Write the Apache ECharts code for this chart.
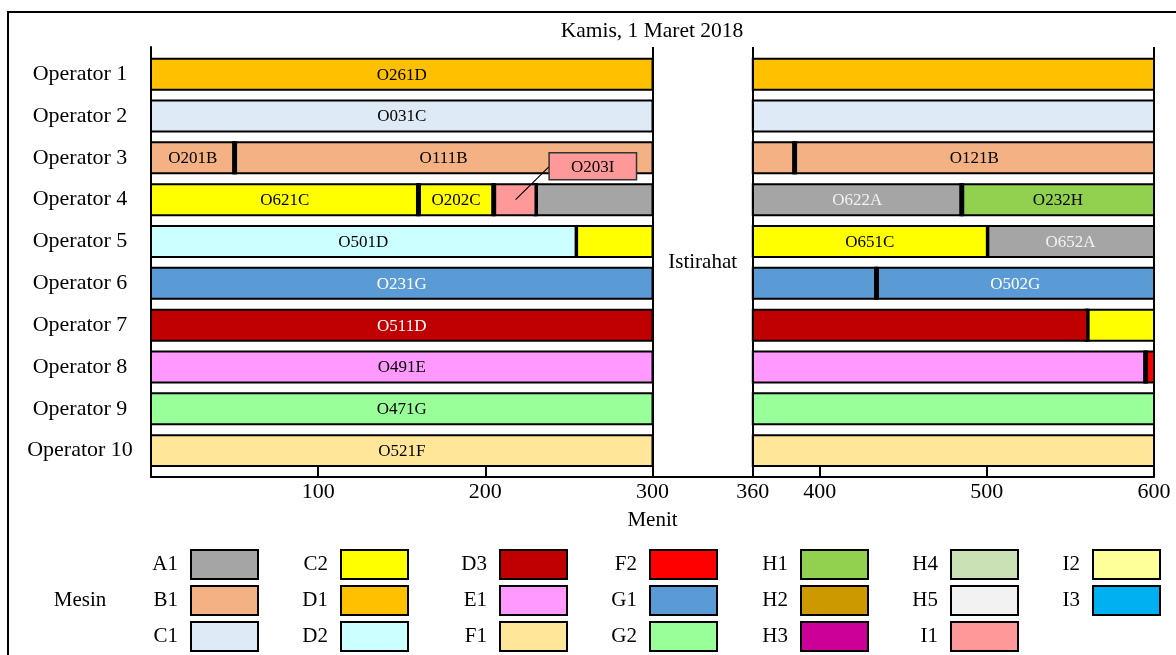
<!DOCTYPE html>
<html>
<head>
<meta charset="utf-8">
<title>Jadwal Operator</title>
<script src="https://cdn.jsdelivr.net/npm/echarts/dist/echarts.min.js"></script>
<style>
  html, body { margin: 0; padding: 0; background: #fff; }
  #chart { width: 1176px; height: 655px; }
</style>
</head>
<body>
<div id="chart"></div>
<script>
// ---- data ----
const chartTitle = 'Kamis, 1 Maret 2018';
const operators = ['Operator 1', 'Operator 2', 'Operator 3', 'Operator 4', 'Operator 5',
                   'Operator 6', 'Operator 7', 'Operator 8', 'Operator 9', 'Operator 10'];
const machines = ['A1', 'B1', 'C1', 'C2', 'D1', 'D2', 'D3', 'E1', 'F1', 'F2',
                  'G1', 'G2', 'H1', 'H2', 'H3', 'H4', 'H5', 'I1', 'I2', 'I3'];
// [operator number, job, machine, start minute, end minute]
const jobs = [
  [1, 'O261D', 'D1', 0, 600],
  [2, 'O031C', 'C1', 0, 600],
  [3, 'O201B', 'B1', 0, 50],
  [3, 'O111B', 'B1', 50, 385],
  [3, 'O121B', 'B1', 385, 600],
  [4, 'O621C', 'C2', 0, 160],
  [4, 'O202C', 'C2', 160, 205],
  [4, 'O203I', 'I1', 205, 230],
  [4, 'O622A', 'A1', 230, 485],
  [4, 'O232H', 'H1', 485, 600],
  [5, 'O501D', 'D2', 0, 254],
  [5, 'O651C', 'C2', 254, 500],
  [5, 'O652A', 'A1', 500, 600],
  [6, 'O231G', 'G1', 0, 434],
  [6, 'O502G', 'G1', 434, 600],
  [7, 'O511D', 'D3', 0, 560],
  [7, '', 'C2', 560, 600],
  [8, 'O491E', 'E1', 0, 595],
  [8, '', 'F2', 595, 600],
  [9, 'O471G', 'G2', 0, 600],
  [10, 'O521F', 'F1', 0, 600]
];
const breakStart = 300;
const breakEnd = 360;
const breakLabel = 'Istirahat';
const dayEnd = 600;
const xTickValues = [100, 200, 300, 360, 400, 500, 600];
const xAxisName = 'Menit';
const legendTitle = 'Mesin';

// ---- styling ----
const FONT = '"Liberation Serif", "Times New Roman", serif';
const palette = {
  A1: '#a5a5a5', B1: '#f4b183', C1: '#deebf7', C2: '#ffff00', D1: '#ffc000',
  D2: '#ccffff', D3: '#c00000', E1: '#ff99ff', F1: '#ffe699', F2: '#ff0000',
  G1: '#5b9bd5', G2: '#99ff99', H1: '#92d050', H2: '#cc9900', H3: '#cc0099',
  H4: '#c9e1b5', H5: '#f2f2f2', I1: '#ff9999', I2: '#ffff99', I3: '#00b0f0'
};
const labelColor = { A1: '#f2f2f2', D3: '#ffffff', G1: '#ffffff' };

// split every job around the break; the label goes on its longest piece
const pieces = [];
jobs.forEach(([op, job, machine, start, end]) => {
  const spans = [];
  if (start < breakStart) spans.push([start, Math.min(end, breakStart)]);
  if (end > breakEnd) spans.push([Math.max(start, breakEnd), end]);
  let longest = 0;
  spans.forEach((s, k) => {
    if (s[1] - s[0] > spans[longest][1] - spans[longest][0]) longest = k;
  });
  spans.forEach((s, k) => pieces.push({
    op, job, machine, start: s[0], end: s[1],
    labelled: k === longest && job !== '',
    separator: k === 0 && start > 0 && start !== breakEnd
  }));
});

const measureCtx = document.createElement('canvas').getContext('2d');
function textWidth(text, font) {
  measureCtx.font = font;
  return measureCtx.measureText(text).width;
}

function renderPiece(params, api) {
  const p = pieces[api.value(3)];
  const a = api.coord([p.start, p.op]);
  const b = api.coord([p.end, p.op]);
  const h = api.size([0, 1])[1] * 0.74;
  const top = a[1] - h / 2;
  const fill = api.visual('color');
  const children = [{
    type: 'rect',
    shape: { x: a[0], y: top, width: b[0] - a[0], height: h },
    style: { fill: fill, stroke: '#000', lineWidth: 2 }
  }];
  if (p.separator) {
    children.push({
      type: 'rect',
      shape: { x: a[0] - 2.5, y: top - 1, width: 5, height: h + 2 },
      style: { fill: '#000' }
    });
  }
  if (p.labelled) {
    const font = '17px ' + FONT;
    const w = textWidth(p.job, font);
    const cx = (a[0] + b[0]) / 2;
    const cy = a[1];
    if (w + 8 <= b[0] - a[0]) {
      children.push({
        type: 'text', x: cx, y: cy + 1,
        style: { text: p.job, font: font, fill: labelColor[p.machine] || '#000',
                 align: 'center', verticalAlign: 'middle' }
      });
    } else {
      // too narrow: boxed label above, joined by a leader line
      const bw = w + 44, bh = 27;
      const bx = cx + 34.5, by = cy - 47;
      children.push({
        type: 'line',
        shape: { x1: cx + 1, y1: cy, x2: bx, y2: cy - 33 },
        style: { stroke: '#000', lineWidth: 1.2 }
      });
      children.push({
        type: 'rect',
        shape: { x: bx, y: by, width: bw, height: bh },
        style: { fill: fill, stroke: '#333', lineWidth: 1.5 }
      });
      children.push({
        type: 'text', x: bx + bw / 2, y: by + bh / 2 + 1,
        style: { text: p.job, font: font, fill: '#000', align: 'center', verticalAlign: 'middle' }
      });
    }
  }
  return { type: 'group', children: children };
}

const machineSeries = machines.map(m => ({
  type: 'custom',
  name: m,
  itemStyle: { color: palette[m] },
  renderItem: renderPiece,
  encode: { x: [1, 2], y: 0 },
  clip: false,
  silent: true,
  data: pieces
    .map((p, i) => ({ p, i }))
    .filter(({ p }) => p.machine === m)
    .map(({ p, i }) => [p.op, p.start, p.end, i])
}));

// break lines, right frame line and the break caption
const breakSeries = {
  type: 'line',
  name: breakLabel,
  data: [],
  z: 5,
  silent: true,
  markLine: {
    silent: true,
    symbol: ['none', 'none'],
    label: { show: false },
    lineStyle: { color: '#000', width: 2, type: 'solid' },
    data: [{ xAxis: breakStart }, { xAxis: breakEnd }, { xAxis: dayEnd }]
  },
  markArea: {
    silent: true,
    itemStyle: { color: 'rgba(0,0,0,0)' },
    label: {
      show: true, position: 'inside', color: '#000',
      fontFamily: FONT, fontSize: 21
    },
    data: [[{ name: breakLabel, xAxis: breakStart }, { xAxis: breakEnd }]]
  }
};

// legend: machines in columns of three, label to the left of each swatch
const legendSwatchLeft = [192, 342, 501, 651, 802, 952, 1094];
const swatchW = 67, swatchH = 29;
const legends = legendSwatchLeft.map((left, c) => ({
  orient: 'vertical',
  align: 'right',
  right: 1176 - (left + swatchW),
  top: 549,
  height: 110,
  padding: 0,
  itemWidth: swatchW,
  itemHeight: swatchH,
  itemGap: 5,
  icon: 'rect',
  selectedMode: false,
  itemStyle: { borderColor: '#000', borderWidth: 2 },
  textStyle: { fontFamily: FONT, fontSize: 21, color: '#000', padding: [0, 8, 0, 0] },
  data: machines.slice(c * 3, c * 3 + 3)
}));

const chart = echarts.init(document.getElementById('chart'), null, { renderer: 'canvas' });
chart.setOption({
  animation: false,
  backgroundColor: '#fff',
  textStyle: { fontFamily: FONT },
  grid: { left: 151, right: 22, top: 47, bottom: 178, containLabel: false, outerBoundsMode: 'none' },
  xAxis: {
    type: 'value', min: 0, max: dayEnd,
    axisLine: { show: true, onZero: false, lineStyle: { color: '#000', width: 2 } },
    axisTick: { show: true, inside: true, length: 10, customValues: xTickValues,
                lineStyle: { color: '#000', width: 2 } },
    axisLabel: { customValues: xTickValues, color: '#000', fontFamily: FONT, fontSize: 22, margin: 4 },
    splitLine: { show: false },
    name: xAxisName, nameLocation: 'middle', nameGap: 33,
    nameTextStyle: { color: '#000', fontFamily: FONT, fontSize: 21 }
  },
  yAxis: {
    type: 'value', min: 0.35, max: 10.63, inverse: true,
    axisLine: { show: true, onZero: false, lineStyle: { color: '#000', width: 2 } },
    axisTick: { show: false },
    splitLine: { show: false },
    axisLabel: {
      customValues: operators.map((_, i) => i + 1),
      formatter: v => operators[Math.round(v) - 1],
      color: '#000', fontFamily: FONT, fontSize: 22, align: 'center', margin: 71
    }
  },
  legend: legends,
  graphic: [
    { type: 'rect', silent: true, shape: { x: 8, y: 12, width: 1200, height: 700 },
      style: { fill: 'none', stroke: '#000', lineWidth: 2 } },
    { type: 'text', silent: true, x: 652, y: 31,
      style: { text: chartTitle, font: '21.5px ' + FONT, fill: '#000', align: 'center', verticalAlign: 'middle' } },
    { type: 'text', silent: true, x: 80, y: 600,
      style: { text: legendTitle, font: '21px ' + FONT, fill: '#000', align: 'center', verticalAlign: 'middle' } }
  ],
  series: machineSeries.concat([breakSeries])
});
</script>
</body>
</html>
